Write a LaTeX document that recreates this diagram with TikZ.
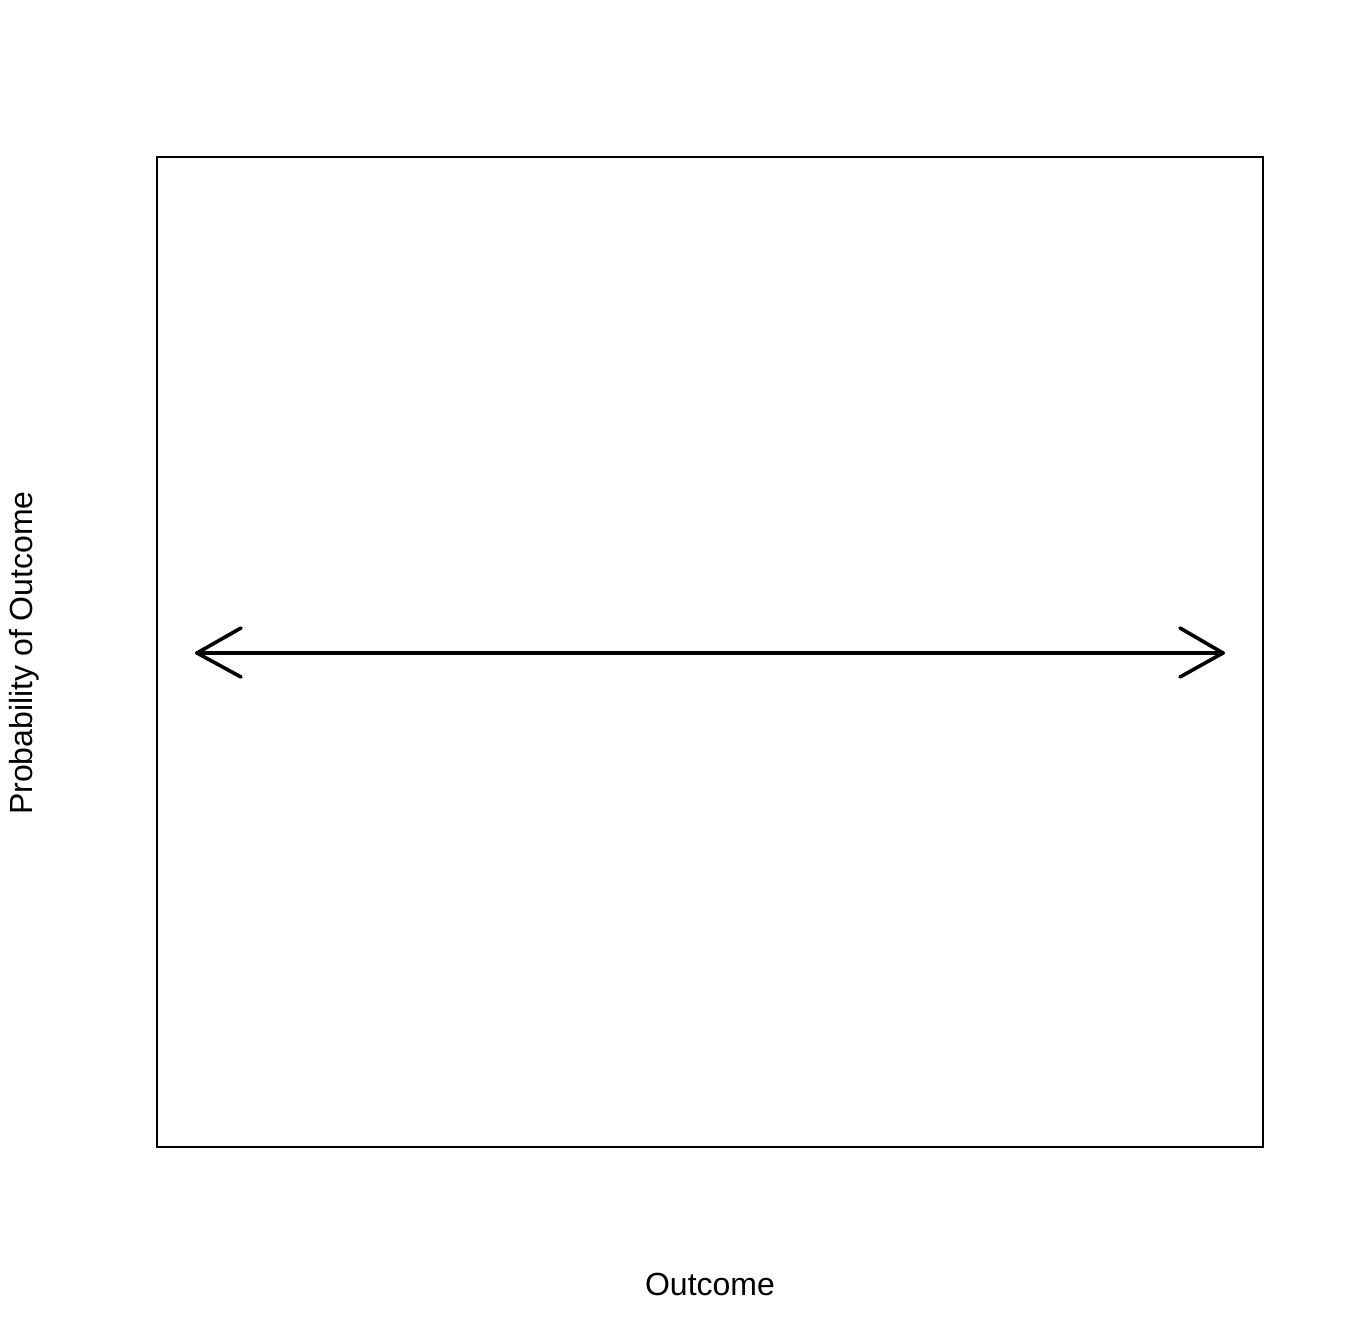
\documentclass[tikz,border=0pt]{standalone}
\usepackage{fontspec}
\setmainfont{Liberation Sans}
\begin{document}
\begin{tikzpicture}[x=1pt,y=-1pt,
  frame/.style={draw=black,line width=1.5pt},
  arrowline/.style={draw=black,line width=3.6pt,line cap=round,line join=round},
  lbl/.style={font=\fontsize{32}{36}\selectfont,inner sep=0pt}]
\useasboundingbox (0,0) rectangle (1344,1344);
\fill[white] (0,0) rectangle (1344,1344);
\draw[frame] (157,157) rectangle (1263,1147);
\coordinate (L) at (197,653);
\coordinate (R) at (1223,653);
\draw[arrowline] (L) -- (R);
\draw[arrowline] (241,628) -- (L) -- (241,677);
\draw[arrowline] (1180,628) -- (R) -- (1180,677);
\node[lbl] (xl) at (710,1284) {Outcome};
\node[lbl,rotate=90] (yl) at (24,653) {Probability of Outcome};
\end{tikzpicture}
\end{document}
